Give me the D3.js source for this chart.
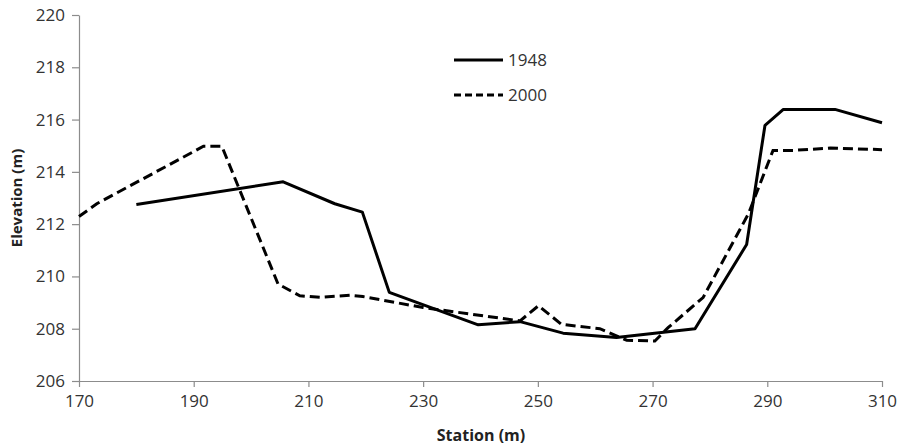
<!DOCTYPE html>
<html><head><meta charset="utf-8">
<script src="https://cdn.jsdelivr.net/npm/d3@7"></script>
<style>body{margin:0;background:#fff}svg{display:block}</style>
</head><body><svg id="c" width="903" height="446"></svg>
<script>
const station1948 = [180, 205.6, 214.6, 219.4, 224.1, 239.6, 246.9, 254.4, 263.7, 277.4, 286.4, 289.6, 292.8, 301.8, 310];
const elev1948    = [212.75, 213.62, 212.78, 212.46, 209.39, 208.15, 208.27, 207.83, 207.66, 208.0, 211.22, 215.78, 216.39, 216.39, 215.88];
const station2000 = [170, 173.1, 191.7, 194.9, 204.7, 208.5, 212, 217.2, 219.5, 230, 246.9, 250.1, 254.1, 260.8, 265.5, 270.4, 272.7, 278.8, 286.7, 291, 294.5, 301, 310];
const elev2000    = [212.29, 212.78, 214.98, 214.98, 209.71, 209.26, 209.2, 209.28, 209.23, 208.81, 208.3, 208.88, 208.17, 208.0, 207.56, 207.53, 208.04, 209.19, 212.39, 214.82, 214.82, 214.91, 214.85];
const xTicks = [170, 190, 210, 230, 250, 270, 290, 310];
const yTicks = [206, 208, 210, 212, 214, 216, 218, 220];
const seriesNames = ["1948", "2000"];

const svg = d3.select("#c");
const font = "'Open Sans', 'Liberation Sans', sans-serif";
const x = d3.scaleLinear().domain([170, 310]).range([79, 882]);
const y = d3.scaleLinear().domain([206, 220]).range([381, 15]);

const xAxis = svg.append("g").attr("transform", "translate(0,381)")
  .call(d3.axisBottom(x).tickValues(xTicks).tickSize(6).tickPadding(8).tickSizeOuter(0));
const yAxis = svg.append("g").attr("transform", "translate(79,0)")
  .call(d3.axisLeft(y).tickValues(yTicks).tickSize(7).tickPadding(7).tickSizeOuter(0));
[xAxis, yAxis].forEach(a => {
  a.selectAll("path,line").attr("stroke", "#8c8c8c").attr("stroke-width", 1.2);
  a.selectAll("text").attr("fill", "#333").style("font-family", font).style("font-size", "17px");
});

const line = d3.line().x(d => x(d[0])).y(d => y(d[1]));
const d1948 = station1948.map((s, i) => [s, elev1948[i]]);
const d2000 = station2000.map((s, i) => [s, elev2000[i]]);
svg.append("path").datum(d2000).attr("d", line).attr("fill", "none")
  .attr("stroke", "#000").attr("stroke-width", 3).attr("stroke-dasharray", "10,5");
svg.append("path").datum(d1948).attr("d", line).attr("fill", "none")
  .attr("stroke", "#000").attr("stroke-width", 3).attr("stroke-linejoin", "round");

// legend
const lg = svg.append("g");
seriesNames.forEach((n, i) => {
  const yy = 60 + i * 35;
  lg.append("line").attr("x1", 454).attr("x2", 503).attr("y1", yy).attr("y2", yy)
    .attr("stroke", "#000").attr("stroke-width", 3)
    .attr("stroke-dasharray", i === 1 ? "7,4" : null);
  lg.append("text").attr("x", 508).attr("y", yy).attr("dy", "0.35em").text(n)
    .attr("fill", "#333").style("font-family", font).style("font-size", "17px");
});

svg.append("text").attr("transform", "translate(17,198) rotate(-90)").attr("text-anchor", "middle")
  .attr("dy", "0.35em").text("Elevation (m)").attr("fill", "#222")
  .style("font-family", font).style("font-size", "15px").style("font-weight", "bold");
svg.append("text").attr("x", 481).attr("y", 435).attr("text-anchor", "middle").attr("dy", "0.35em")
  .text("Station (m)").attr("fill", "#222")
  .style("font-family", font).style("font-size", "16px").style("font-weight", "bold");
</script></body></html>
